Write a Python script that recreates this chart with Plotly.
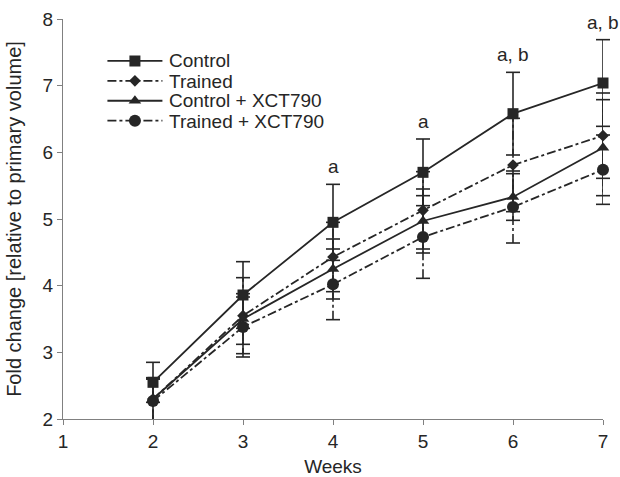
import plotly.graph_objects as go

weeks = [2, 3, 4, 5, 6, 7]
control = [2.55, 3.86, 4.95, 5.70, 6.58, 7.04]
control_err = [0.30, 0.50, 0.57, 0.50, 0.62, 0.65]
trained = [2.30, 3.55, 4.43, 5.13, 5.81, 6.25]
trained_err = [0.30, 0.57, 0.52, 0.58, 0.70, 0.64]
control_xct = [2.30, 3.50, 4.25, 4.97, 5.33, 6.07]
control_xct_err = [0.30, 0.38, 0.45, 0.48, 0.35, 0.72]
trained_xct = [2.27, 3.38, 4.02, 4.73, 5.18, 5.74]
trained_xct_err = [0.35, 0.45, 0.53, 0.62, 0.54, 0.52]
sig_labels = ["", "", "a", "a", "a, b", "a, b"]
series_names = ["Control", "Trained", "Control + XCT790", "Trained + XCT790"]

INK = "#262626"
FONT = "Liberation Sans, Arial, sans-serif"

series = [
    (control, control_err, "solid", "square", 11),
    (trained, trained_err, "dashdot", "diamond", 9),
    (control_xct, control_xct_err, "solid", "triangle-up", 11),
    (trained_xct, trained_xct_err, "dashdot", "circle", 12),
]

fig = go.Figure()

# error bars
for ys, errs, dash, sym, size in series:
    xs, yv = [], []
    for x, y, e in zip(weeks, ys, errs):
        xs += [x, x, None]
        yv += [y - e, y + e, None]
    fig.add_trace(go.Scatter(x=xs, y=yv, mode="lines", showlegend=False,
                             line=dict(color=INK, width=1.6, dash=dash),
                             hoverinfo="skip", cliponaxis=False))
    capx = weeks + weeks
    capy = [y - e for y, e in zip(ys, errs)] + [y + e for y, e in zip(ys, errs)]
    fig.add_trace(go.Scatter(x=capx, y=capy, mode="markers", showlegend=False,
                             marker=dict(symbol="line-ew", size=10,
                                         line=dict(color=INK, width=1.6)),
                             hoverinfo="skip", cliponaxis=False))

# main series (legend shows only symbols; labels are annotations for spacing)
for name, (ys, errs, dash, sym, size) in zip(series_names, series):
    fig.add_trace(go.Scatter(x=weeks, y=ys, mode="lines+markers", name=" ",
                             hovertext=name, hoverinfo="text+y",
                             line=dict(color=INK, width=1.8, dash=dash),
                             marker=dict(symbol=sym, size=size, color=INK),
                             cliponaxis=False))

# legend labels
row_y = [0.895, 0.845, 0.795, 0.745]
for name, ry in zip(series_names, row_y):
    fig.add_annotation(xref="paper", yref="paper", x=0.1926, y=ry, text=name,
                       showarrow=False, xanchor="left", yanchor="middle",
                       font=dict(size=19, color=INK, family=FONT))

for x, y, e, lab in zip(weeks, control, control_err, sig_labels):
    if lab:
        fig.add_annotation(x=x, y=y + e, text=lab, showarrow=False,
                           yanchor="bottom", yshift=5,
                           font=dict(size=19, color=INK, family=FONT))

fig.update_layout(
    width=620, height=477,
    margin=dict(l=63, r=17, t=19, b=58, autoexpand=False),
    paper_bgcolor="white", plot_bgcolor="white",
    font=dict(family=FONT, size=19, color=INK),
    showlegend=True,
    legend=dict(x=0.073, y=0.9325, xanchor="left", yanchor="top",
                bgcolor="rgba(0,0,0,0)", itemwidth=55,
                font=dict(size=13, color=INK), tracegroupgap=0),
    xaxis=dict(range=[1, 7], tickvals=[1, 2, 3, 4, 5, 6, 7],
               showgrid=False, zeroline=False, automargin=False,
               showline=True, linecolor="#808080", linewidth=1.2,
               ticks="outside", ticklen=5, tickcolor="#808080",
               tickfont=dict(size=19),
               title=dict(text="Weeks", font=dict(size=19))),
    yaxis=dict(range=[2, 8], tickvals=[2, 3, 4, 5, 6, 7, 8],
               showgrid=False, zeroline=False, automargin=False,
               showline=True, linecolor="#808080", linewidth=1.2,
               ticks="outside", ticklen=5, tickcolor="#808080",
               tickfont=dict(size=19),
               title=dict(text="Fold change [relative to primary volume]",
                          font=dict(size=20))),
)

fig.write_html("out.html", config={"displayModeBar": False},
               post_script="document.body.style.margin='0';document.body.style.overflow='hidden';")
